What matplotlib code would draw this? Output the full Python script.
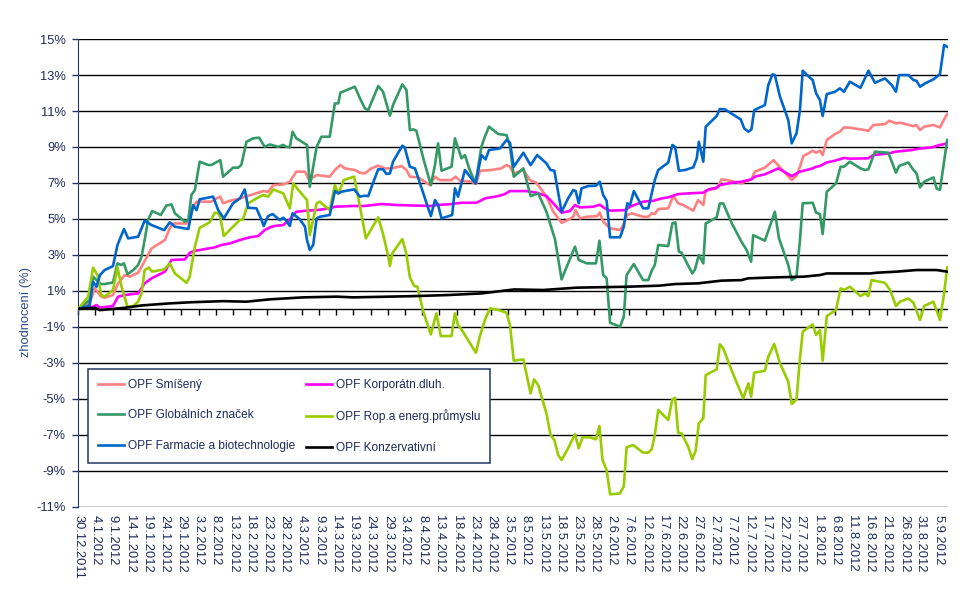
import matplotlib
matplotlib.use("Agg")
import matplotlib.pyplot as plt
from matplotlib.lines import TICKDOWN
from datetime import datetime, timedelta

# values: (days after 30.12.2011, appreciation in %)
smiseny = [(0, 0), (3.3, 0.31), (4.8, 1.14), (6.7, 0.68), (7.7, 0.62), (10.1, 0.77), (11.6, 1.42), (13.5, 1.88),
           (15.0, 1.79), (17.4, 2.01), (18.4, 2.34), (21.3, 3.36), (25.2, 3.83), (26.6, 4.48), (27.6, 4.75),
           (32.0, 4.75), (33.4, 5.68), (34.4, 5.96), (38.7, 5.96), (40.2, 6.14), (41.3, 6.24),
           (42.1, 5.87), (44.1, 6.01), (47.0, 6.14), (50.8, 6.37), (53.8, 6.55), (55.2, 6.51), (56.7, 6.88),
           (59.6, 6.92), (61.5, 7.07), (63.4, 7.63), (65.9, 7.63), (67.1, 7.16), (69.3, 7.44), (73.1, 7.35),
           (74.6, 7.72), (76.2, 8.0), (77.5, 7.81), (80.4, 7.72), (81.9, 7.57),
           (83.3, 7.53), (85.2, 7.81), (87.2, 7.96), (89.1, 7.81), (91.1, 7.81), (94.0, 7.94), (95.4, 7.72),
           (96.4, 7.35), (98.8, 7.31), (102.2, 6.88), (103.7, 7.35), (105.1, 7.16), (108.5, 7.16), (109.7, 7.35),
           (110.9, 7.13), (114.3, 7.07), (115.6, 6.94), (116.8, 7.68), (120.1, 7.72), (123.0, 7.81), (124.5, 8.0),
           (125.5, 7.90), (126.6, 7.53), (129.4, 7.72), (131.3, 7.16), (133.2, 7.01), (136.1, 6.24), (138.1, 5.40),
           (140.5, 4.79), (142.4, 4.94), (143.9, 5.12), (144.6, 5.49), (145.8, 5.03), (147.8, 5.12), (150.9, 5.16),
           (151.6, 5.35), (152.6, 4.85), (154.6, 4.48), (157.5, 4.38), (158.4, 4.66), (159.6, 5.22), (160.9, 5.31),
           (164.2, 5.12), (165.7, 5.12), (166.7, 5.31), (167.6, 5.27),
           (168.6, 5.55), (171.5, 5.59), (173.0, 6.29), (174.4, 5.87), (175.9, 5.77), (178.8, 5.46), (180.2, 6.05),
           (181.7, 5.77), (182.4, 6.57), (185.6, 6.70), (187.0, 7.20), (188.5, 7.16), (192.8, 6.98), (193.8, 7.07),
           (195.7, 7.20), (196.7, 7.63), (199.6, 7.85), (202.1, 8.27), (204.0, 7.87), (207.4, 7.16), (208.8, 7.40),
           (209.8, 7.90), (210.8, 8.50), (212.2, 8.64), (213.5, 8.79), (214.5, 8.68), (215.6, 8.79), (216.4, 8.55),
           (217.6, 9.39), (220.0, 9.72), (221.4, 9.85), (222.6, 10.09), (224.3, 10.07), (227.4, 9.98), (229.7, 9.90),
           (231.1, 10.22), (234.5, 10.27), (235.8, 10.46), (237.7, 10.31), (238.9, 10.35), (242.8, 10.16),
           (243.7, 10.22), (244.7, 9.94), (245.9, 10.13), (248.6, 10.22), (250.5, 10.09), (251.7, 10.53), (252.6, 10.83)]

korporatni = [(0, 0), (4.3, 0.12), (5.3, 0.21), (6.3, 0.07), (10.1, 0.16), (11.6, 0.68), (13.5, 0.77), (17.4, 0.86),
              (19.3, 1.42), (21.3, 1.70), (25.2, 2.07), (27.1, 2.72), (31.0, 2.75), (32.4, 3.12), (33.9, 3.23),
              (35.3, 3.27), (37.8, 3.36), (39.7, 3.42), (41.6, 3.55),
              (44.1, 3.64), (47.0, 3.83), (49.9, 3.98), (52.3, 4.05), (54.2, 4.38), (55.7, 4.53), (57.1, 4.61),
              (59.6, 4.66), (61.5, 4.98), (63.4, 5.40), (66.4, 5.46), (69.3, 5.49), (73.1, 5.59), (74.6, 5.68),
              (79.9, 5.72), (83.3, 5.72), (88.2, 5.83), (93.0, 5.77), (102.7, 5.72), (104.2, 5.77), (108.5, 5.83),
              (111.4, 5.90), (115.8, 5.90), (118.2, 6.14), (122.1, 6.27), (124.0, 6.38),
              (125.5, 6.55), (130.3, 6.55), (133.2, 6.46), (136.1, 6.27), (138.1, 5.87), (140.5, 5.35), (142.9, 5.44),
              (144.4, 5.77), (145.8, 5.64), (149.7, 5.68), (151.6, 5.79), (153.1, 5.59), (154.6, 5.46), (158.9, 5.49),
              (160.4, 5.68), (164.2, 5.96), (167.2, 6.01),
              (169.6, 6.14), (171.5, 6.20), (174.4, 6.38), (177.3, 6.42), (181.7, 6.46), (183.2, 6.64), (185.6, 6.74),
              (186.5, 6.88), (189.9, 7.01), (192.8, 7.07), (195.7, 7.20), (196.7, 7.35), (199.6, 7.48), (203.5, 7.81),
              (207.4, 7.38), (209.8, 7.63), (211.7, 7.72), (213.5, 7.81), (214.5, 7.90), (215.6, 7.94), (217.6, 8.14),
              (220.0, 8.24), (222.6, 8.39), (224.3, 8.35), (229.7, 8.37), (231.1, 8.55), (235.5, 8.64), (237.7, 8.74),
              (242.3, 8.83), (244.2, 8.90), (248.1, 8.98), (250.5, 9.11), (252.6, 9.20)]

globalni = [(0, 0), (3.3, 0.49), (4.3, 1.79), (5.3, 1.60), (6.7, 1.38), (7.7, 1.38), (10.1, 1.47), (11.4, 2.53),
            (12.4, 2.44), (13.3, 2.53), (14.3, 1.92), (16.0, 2.16), (17.4, 2.44), (18.4, 2.90), (19.3, 3.83),
            (20.3, 4.94), (21.5, 5.44), (24.0, 5.22), (25.6, 5.74), (27.1, 5.81), (28.1, 5.31), (31.0, 4.85),
            (32.0, 4.94), (32.9, 6.33), (33.9, 6.61), (35.3, 8.18), (37.8, 8.00), (38.7, 8.00), (41.3, 8.27),
            (42.1, 7.35), (45.0, 7.85), (46.5, 7.85), (47.4, 8.00), (48.9, 9.29), (50.8, 9.48), (52.6, 9.52),
            (54.2, 9.01), (55.7, 9.14), (58.1, 9.01), (59.6, 9.11), (60.5, 9.01), (61.5, 8.98), (62.3, 9.85),
            (63.4, 9.48), (66.5, 9.11), (67.3, 6.79), (69.3, 9.01), (70.7, 9.57), (73.1, 9.57), (74.6, 11.42),
            (75.6, 11.42), (76.2, 12.02), (80.4, 12.35), (81.9, 11.70),
            (83.3, 11.15), (84.3, 11.05), (87.2, 12.39), (88.6, 12.07), (90.6, 10.74), (91.5, 11.33), (94.2, 12.48),
            (95.4, 12.17), (96.4, 9.94), (97.4, 9.98), (98.3, 9.90), (100.3, 8.37), (102.5, 6.88), (103.7, 8.00),
            (104.6, 9.20), (105.6, 7.68), (108.5, 7.90), (109.5, 9.48), (111.4, 8.37), (112.4, 8.55), (113.8, 7.72),
            (115.5, 6.98), (117.2, 9.01), (118.2, 9.57), (119.4, 10.13), (122.1, 9.72), (124.5, 9.66),
            (125.5, 9.05), (126.6, 7.35), (129.4, 7.81), (131.5, 6.27), (133.7, 6.42), (136.1, 5.40), (138.6, 3.86),
            (140.5, 1.64), (142.4, 2.53), (144.4, 3.46), (145.5, 2.72), (147.8, 2.53), (150.5, 2.53), (151.5, 3.79),
            (152.6, 1.88), (153.6, 1.70), (154.6, -0.77), (157.5, -0.99), (158.6, -0.43), (159.4, 1.88),
            (161.5, 2.49), (164.2, 1.60), (165.7, 1.60), (166.7, 2.12), (167.6, 2.44),
            (168.6, 3.55), (171.5, 3.49), (172.7, 4.75), (173.6, 4.81), (174.6, 3.18), (175.4, 3.12), (178.5, 1.97),
            (179.3, 2.20), (180.4, 3.00), (181.7, 2.53), (182.4, 4.75), (185.6, 5.09), (186.5, 5.86), (187.5, 5.86),
            (189.9, 4.79), (192.8, 3.73), (194.3, 3.27), (195.6, 2.62), (196.2, 4.10), (199.6, 3.79), (202.5, 5.40),
            (203.7, 3.92), (206.4, 2.44), (207.4, 1.60), (208.8, 1.79),
            (209.8, 3.83), (210.6, 5.87), (213.5, 5.90), (214.5, 5.35), (215.6, 5.27), (216.4, 4.16), (217.6, 6.51),
            (220.3, 6.98), (221.6, 7.90), (222.6, 7.90), (224.3, 8.18), (227.4, 7.81), (228.7, 7.72), (229.7, 7.76),
            (231.6, 8.74), (235.5, 8.68), (236.5, 8.18), (237.7, 7.57), (238.6, 7.94), (241.3, 8.14), (242.8, 7.72),
            (243.7, 7.53), (244.7, 6.75), (245.9, 7.07), (248.6, 7.31), (249.5, 6.70), (250.5, 6.61), (251.7, 8.18),
            (252.6, 9.39)]

ropa = [(0, 0), (2.9, 0.68), (4.3, 2.29), (5.6, 1.88), (6.7, 0.77), (7.7, 0.68), (10.1, 1.05), (11.4, 2.31),
        (12.6, 1.23), (14.3, 0.12), (16.0, 0.16), (17.4, 0.40), (18.4, 0.86), (19.3, 2.16), (20.5, 2.29),
        (21.5, 2.07), (25.0, 2.20), (26.6, 2.53), (28.1, 1.97), (31.5, 1.45), (32.4, 1.79), (33.9, 3.46),
        (35.3, 4.51), (38.2, 4.81), (39.7, 5.35), (40.7, 5.31), (41.3, 5.09),
        (42.3, 4.05), (45.0, 4.57), (47.0, 4.94), (47.9, 4.98), (49.4, 5.87), (51.8, 6.14), (53.8, 6.33),
        (55.2, 6.24), (56.7, 6.64), (59.6, 6.42), (61.5, 5.59), (62.5, 6.98), (64.0, 6.61), (66.5, 6.05),
        (67.3, 4.10), (69.3, 5.87), (70.2, 5.96), (73.1, 5.49), (74.6, 6.88), (75.6, 6.42), (77.2, 7.16),
        (80.2, 7.35), (81.9, 5.68), (83.6, 3.92),
        (87.2, 5.09), (88.6, 4.16), (90.1, 2.94), (90.6, 2.38), (91.3, 3.09), (94.2, 3.88), (95.4, 3.05),
        (96.4, 1.75), (97.7, 1.27), (98.6, 1.23), (100.3, -0.16), (102.5, -1.42), (104.1, -0.25), (105.4, -1.51),
        (108.5, -1.51), (109.5, -0.25), (110.4, -0.90), (111.4, -1.14), (112.4, -1.45), (115.6, -2.44),
        (116.7, -1.55), (118.2, -0.62), (119.7, 0.03), (122.1, -0.06), (124.5, -0.21),
        (125.5, -0.90), (126.6, -2.88), (129.4, -2.81), (131.5, -4.70), (132.5, -3.92), (133.7, -4.23),
        (136.1, -5.81), (137.3, -7.01), (138.4, -7.29), (139.5, -8.12), (140.5, -8.40), (142.4, -7.75),
        (144.4, -6.96), (145.5, -7.75), (146.6, -7.14), (148.7, -7.14), (150.5, -7.25), (151.5, -6.51),
        (152.4, -8.40), (153.6, -8.96), (154.6, -10.31), (157.5, -10.26), (158.6, -9.85), (159.4, -7.70),
        (161.3, -7.57), (164.2, -7.99), (165.7, -7.99), (166.7, -7.81), (167.6, -7.01),
        (168.6, -5.62), (171.5, -6.18), (172.7, -5.03), (173.5, -4.94), (174.4, -6.88), (175.4, -6.92),
        (177.3, -7.66), (178.5, -8.35), (179.5, -7.88), (180.4, -6.36), (181.7, -6.09), (182.4, -3.68),
        (185.6, -3.36), (186.5, -1.97), (187.5, -2.19), (189.9, -3.40), (193.3, -4.97), (194.8, -4.14),
        (195.6, -4.88), (196.5, -3.55), (199.6, -3.44), (200.6, -2.66), (202.3, -1.95), (204.0, -3.03),
        (206.4, -4.05), (207.4, -5.29), (208.8, -5.03),
        (209.8, -2.75), (210.6, -1.27), (213.5, -0.86), (214.5, -1.45), (215.6, -1.18), (216.4, -2.88),
        (217.6, -0.40), (220.3, -0.06), (221.6, 1.14), (222.6, 1.05), (224.3, 1.23), (227.4, 0.71), (228.7, 0.86),
        (229.7, 0.71), (230.6, 1.60), (234.5, 1.45), (236.0, 1.05), (237.7, 0.16), (238.9, 0.40), (241.3, 0.58),
        (242.8, 0.34), (244.7, -0.62), (245.9, 0.16), (248.6, 0.40), (250.5, -0.62), (251.7, 0.86), (252.6, 2.31)]

farmacie = [(0, 0), (3.3, 0.19), (4.3, 1.51), (5.3, 1.23), (6.3, 1.88), (7.7, 2.16), (10.1, 2.38), (11.4, 3.55),
            (13.3, 4.44), (14.5, 3.92), (17.4, 4.01), (19.3, 4.90), (21.3, 4.66), (25.0, 4.38), (26.6, 4.81),
            (28.1, 4.57), (32.0, 4.44), (33.4, 5.77), (34.4, 5.49), (35.3, 6.09), (39.2, 6.24), (40.7, 5.49),
            (42.3, 5.03), (45.0, 5.87), (47.0, 6.14), (48.4, 6.64), (49.4, 5.62), (51.8, 5.59), (53.3, 4.94),
            (53.9, 4.61), (55.2, 5.16), (56.5, 5.27), (58.6, 4.94), (59.6, 5.07), (60.5, 4.90), (61.5, 4.61),
            (62.3, 5.31), (64.4, 4.98), (65.9, 4.57), (66.5, 3.83), (67.3, 3.27), (68.3, 3.55), (69.3, 5.03),
            (70.2, 5.12), (73.1, 5.22), (74.6, 6.55), (75.6, 6.42), (76.5, 6.51), (78.0, 6.57), (80.2, 6.64),
            (81.9, 6.24),
            (83.3, 6.29), (84.3, 6.27), (85.2, 6.75), (87.2, 7.76), (88.6, 7.76), (89.6, 7.50), (90.6, 7.53),
            (91.5, 8.18), (94.2, 9.07), (94.9, 8.98), (96.4, 7.90), (97.9, 7.81), (102.5, 5.16), (103.7, 6.05),
            (104.6, 5.79), (105.6, 5.03), (108.7, 5.22), (109.5, 6.70), (110.4, 6.24), (112.4, 7.72), (114.3, 7.25),
            (115.5, 6.98), (117.2, 8.55), (118.4, 8.31), (119.4, 8.83), (122.6, 8.92), (124.5, 9.39),
            (125.5, 9.24), (126.6, 7.90), (129.4, 8.68), (131.5, 7.99), (133.4, 8.55), (136.1, 8.09), (137.3, 7.72),
            (138.4, 7.68), (140.5, 5.40), (142.4, 6.14), (143.9, 6.61), (144.6, 6.55), (145.5, 5.87), (146.3, 6.70),
            (148.3, 6.83), (150.5, 6.85), (151.6, 7.07), (152.6, 6.33), (153.6, 6.01), (154.6, 3.98), (157.5, 3.98),
            (158.6, 4.57), (159.6, 5.87), (160.4, 5.77), (161.5, 6.55), (164.2, 5.59), (165.7, 5.59), (167.6, 7.16),
            (168.6, 7.72), (171.5, 8.13), (172.7, 9.11), (173.5, 9.01), (174.6, 7.68), (176.4, 7.72), (178.8, 7.87),
            (179.8, 8.37), (180.4, 9.29), (181.7, 8.18), (182.4, 10.13), (185.6, 10.72), (186.5, 11.11),
            (188.0, 11.09), (192.6, 10.53), (193.6, 10.03), (194.8, 9.85), (195.7, 9.98), (196.5, 11.05),
            (199.6, 11.33), (200.6, 12.44), (201.8, 13.04), (202.5, 13.00), (204.0, 11.79), (206.4, 10.50),
            (207.4, 9.20), (208.8, 9.76), (209.8, 11.05),
            (210.6, 13.24), (212.2, 12.94), (213.5, 12.72), (214.5, 11.98), (215.6, 11.61), (216.4, 10.72),
            (217.6, 11.94), (220.0, 12.07), (221.4, 12.26), (222.6, 12.07), (224.3, 12.63), (227.4, 12.29),
            (229.7, 13.24), (231.6, 12.57), (234.5, 12.81), (236.5, 12.44), (237.7, 12.07), (238.6, 13.00),
            (241.3, 13.00), (242.8, 12.72), (243.7, 12.68), (244.7, 12.35), (246.2, 12.54), (248.6, 12.76),
            (250.5, 13.05), (251.7, 14.67), (252.6, 14.57)]

konzervativni = [(0, 0), (4.8, 0.06), (6.3, -0.07), (13.5, 0.06), (18.4, 0.19), (26.1, 0.30), (32.9, 0.37),
                 (42.1, 0.43), (48.9, 0.40), (55.7, 0.53), (65.4, 0.64), (75.1, 0.68), (79.9, 0.64), (97.9, 0.71),
                 (107.5, 0.77), (117.2, 0.86), (126.7, 1.08), (135.2, 1.05), (144.9, 1.18), (159.4, 1.23),
                 (168.9, 1.29), (173.5, 1.38), (180.2, 1.42), (187.0, 1.57), (192.8, 1.60), (194.8, 1.70),
                 (202.5, 1.75), (210.8, 1.79), (215.6, 1.88), (217.6, 1.97), (230.2, 1.97), (232.1, 2.01),
                 (237.9, 2.07), (243.7, 2.16), (249.5, 2.16), (252.6, 2.07)]

series = [
    ("OPF Smíšený", smiseny, "#ff8080"),
    ("OPF Korporátn.dluh.", korporatni, "#ff00ff"),
    ("OPF Globálních značek", globalni, "#339966"),
    ("OPF Rop.a energ.průmyslu", ropa, "#99cc00"),
    ("OPF Farmacie a biotechnologie", farmacie, "#0066cc"),
    ("OPF Konzervativní", konzervativni, "#000000"),
]

start = datetime(2011, 12, 30)
last_day = 252.9
tick_days = list(range(0, 251, 5))
y_ticks = list(range(-11, 16, 2))

plt.rcParams['font.family'] = ['Liberation Sans', 'DejaVu Sans']
navy = "#1f3864"
txt = "#1f2a5c"

fig = plt.figure(figsize=(9.66, 5.99), dpi=100)
ax = fig.add_axes([0.081, 0.154, 0.9006, 0.7808])

# horizontal axis line crosses at 0 %, with its tick marks pointing down
ax.axhline(0, color='black', lw=1.0, zorder=2)
ax.plot(tick_days, [0] * len(tick_days), linestyle='none', marker=TICKDOWN,
        markersize=4, markeredgewidth=1, color='black', zorder=2, clip_on=False)

handles = {}
for name, pts, col in series:
    xs = [p[0] for p in pts]
    ys = [p[1] for p in pts]
    line, = ax.plot(xs, ys, color=col, lw=1.9, label=name, solid_joinstyle='round', zorder=3)
    handles[name] = line

ax.set_xlim(0, last_day)
ax.set_ylim(-11, 15)

# horizontal grid, odd percents
ax.set_yticks(y_ticks)
ax.set_yticklabels([f"{v}%" for v in y_ticks])
ax.yaxis.grid(True, color='black', lw=1.0)
ax.tick_params(axis='y', direction='out', length=4, width=1, color=navy,
               labelsize=9.3, labelcolor=txt, pad=5)
ax.spines['left'].set_color(navy)
for s in ['right', 'top', 'bottom']:
    ax.spines[s].set_visible(False)

# date labels along the bottom edge
tick_labels = []
for d in tick_days:
    dt = start + timedelta(days=d)
    tick_labels.append(f"{dt.day}.{dt.month}.{dt.year}")
ax.set_xticks(tick_days)
ax.set_xticklabels(tick_labels, rotation=-90)
ax.tick_params(axis='x', length=0, pad=6, labelsize=9.3, labelcolor=txt)

ax.set_ylabel("zhodnocení (%)", fontsize=9.3, color="#2e4a86")
ax.yaxis.set_label_coords(-0.053, 0.416)

order = ["OPF Smíšený", "OPF Globálních značek", "OPF Farmacie a biotechnologie",
         "OPF Korporátn.dluh.", "OPF Rop.a energ.průmyslu", "OPF Konzervativní"]
leg = ax.legend([handles[n] for n in order], order, ncol=2, loc='upper left',
                bbox_to_anchor=(0.0115, 0.2938), borderaxespad=0,
                fontsize=8.6, frameon=True, fancybox=False, borderpad=0.8,
                handlelength=2.2, handletextpad=0.3, labelspacing=1.55, columnspacing=0.9)
leg.set_zorder(5)
leg.get_frame().set_edgecolor(navy)
leg.get_frame().set_linewidth(1.1)
leg.get_frame().set_alpha(1)
for t in leg.get_texts():
    t.set_color(txt)

fig.savefig("out.png", dpi=100)
